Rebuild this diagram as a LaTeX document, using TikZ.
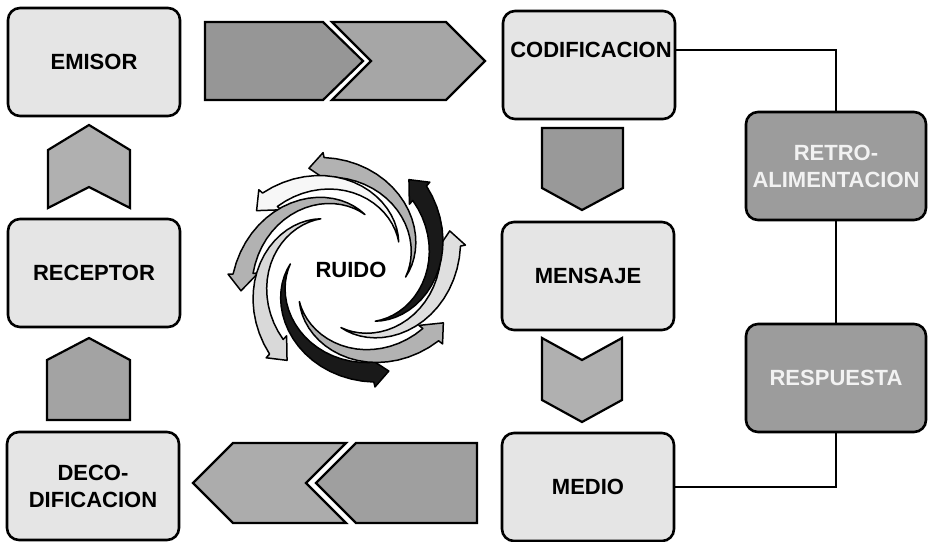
\documentclass[tikz,border=0pt]{standalone}
\usepackage{fontspec}
\setmainfont{Liberation Sans}
\usepackage{tikz}

\begin{document}
\begin{tikzpicture}[x=1pt, y=-1pt,
    box/.style={draw=black, line width=2.6pt, rounded corners=12pt, fill=gray!20,
      minimum width=172pt, minimum height=108pt, inner sep=0pt, align=center,
      font=\bfseries\fontsize{22}{27}\selectfont},
    dbox/.style={box, fill=gray!78, text=gray!10, minimum width=180pt},
    piece/.style={draw=black, line width=2.2pt, line join=miter}]
        \useasboundingbox (0,0) rectangle (933,541);

        \node[box] (em) at (94,62) {EMISOR};
        \node[box] (rec) at (94,273) {RECEPTOR};
        \node[box] (dec) at (93,486) {DECO-\\DIFICACION};
        \node[box] (cod) at (589,65) {};
        \node[font=\bfseries\fontsize{22}{27}\selectfont, inner sep=0pt] (codt) at (591,50) {CODIFICACION};
        \node[box] (men) at (588,276) {MENSAJE};
        \node[box] (med) at (588,487) {MEDIO};
        \node[dbox] (ret) at (836,166) {RETRO-\\ALIMENTACION};
        \node[dbox] (res) at (836,378) {RESPUESTA};

        \draw[line width=1.8pt] (cod.east |- codt) -| (ret.north);
        \draw[line width=1.8pt] (ret) -- (res);
        \draw[line width=1.8pt] (res.south) |- (med.east);

        % chevrons
        \draw[piece, fill=gray!82] (205,22) -- (323,22) -- (363,61) -- (323,100) -- (205,100) -- cycle;
        \draw[piece, fill=gray!70] (332,22) -- (446,22) -- (485,61) -- (446,100) -- (332,100) -- (371,61) -- cycle;
        \draw[piece, fill=gray!80] (542,128) -- (623,128) -- (623,188) -- (582,210) -- (542,188) -- cycle;
        \draw[piece, fill=gray!62] (542,338) -- (582,360) -- (622,338) -- (622,400) -- (582,422) -- (542,400) -- cycle;
        \draw[piece, fill=gray!65] (193,483) -- (233,443) -- (346,443) -- (306,483) -- (346,523) -- (233,523) -- cycle;
        \draw[piece, fill=gray!75] (316,483) -- (356,443) -- (477,443) -- (477,523) -- (356,523) -- cycle;
        \draw[piece, fill=gray!72] (47,420) -- (47,360) -- (89,338) -- (130,360) -- (130,420) -- cycle;
        \draw[piece, fill=gray!62] (89,125) -- (130,150) -- (130,208) -- (89,187) -- (48,208) -- (48,150) -- cycle;

        % ruido
        \node[font=\bfseries\fontsize{22}{27}\selectfont] (ru) at (351,270) {RUIDO};
        \begin{scope}[shift={(348,270)}, x=1pt, y=1pt]
          \foreach \h/\c in {21/gray!25, 56/black!90, 111/gray!60, 147/gray!6,
                             191/gray!60, 236/gray!30, 292/black!90, 331/gray!60}
            \filldraw[fill=\c, draw=black, line width=1.5pt, line join=round]
              plot[domain=0:1, samples=20] ({\h-118+109*\x}:{58+57*\x})
              -- ({\h-9}:{120}) -- ({\h}:{109}) -- ({\h-9}:{90})
              -- plot[domain=1:0, samples=20] ({\h-118+109*\x}:{58+37*\x})
              -- cycle;
        \end{scope}
      \end{tikzpicture}
\end{document}
